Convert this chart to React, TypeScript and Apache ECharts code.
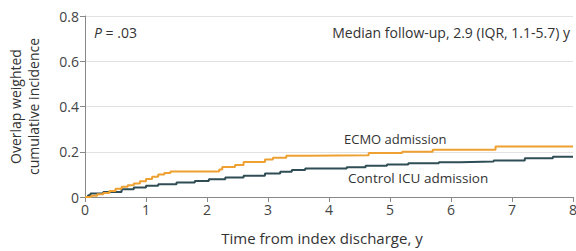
import React, { useEffect, useRef } from "react";
import * as echarts from "echarts";

const ecmoTimes = [0, 0.1, 0.2, 0.3, 0.4, 0.5, 0.6, 0.7, 0.8, 0.9, 1.0, 1.1, 1.2, 1.3, 1.4, 2.2, 2.25, 2.46, 2.6, 2.95, 3.08, 3.3, 3.65, 4.65, 5.2, 5.7, 6.73, 8];
const ecmoValues = [0, 0.006, 0.012, 0.018, 0.026, 0.036, 0.045, 0.052, 0.06, 0.07, 0.08, 0.09, 0.1, 0.106, 0.113, 0.122, 0.133, 0.141, 0.155, 0.166, 0.173, 0.182, 0.185, 0.194, 0.2, 0.209, 0.223, 0.223];

const controlTimes = [0, 0.05, 0.09, 0.3, 0.6, 0.8, 1.0, 1.2, 1.5, 1.8, 2.03, 2.3, 2.6, 2.95, 3.2, 3.39, 3.61, 4.29, 4.6, 4.95, 5.3, 5.8, 6.15, 6.7, 7.21, 7.67, 8];
const controlValues = [0, 0.008, 0.016, 0.022, 0.034, 0.042, 0.05, 0.056, 0.064, 0.071, 0.078, 0.086, 0.094, 0.104, 0.112, 0.119, 0.126, 0.132, 0.138, 0.144, 0.149, 0.154, 0.157, 0.161, 0.171, 0.178, 0.18];

const xTicks = [0, 1, 2, 3, 4, 5, 6, 7, 8];
const yTicks = [0, 0.2, 0.4, 0.6, 0.8];

const FONT = "Open Sans";

export default function App() {
  const ref = useRef<HTMLDivElement>(null);
  useEffect(() => {
    document.body.style.margin = "0";
    const chart = echarts.init(ref.current!, null, { renderer: "svg" });
    chart.setOption({
      animation: false,
      textStyle: { fontFamily: FONT },
      grid: { left: 85, right: 3, top: 16, bottom: 54, containLabel: false, outerBoundsMode: "none" },
      xAxis: {
        type: "value",
        min: xTicks[0],
        max: xTicks[xTicks.length - 1],
        interval: 1,
        name: "Time from index discharge, y",
        nameLocation: "middle",
        nameGap: 33,
        nameTextStyle: { fontSize: 15, color: "#333", fontFamily: FONT, padding: [0, 14, 0, 0] },
        axisLine: { lineStyle: { color: "#888", width: 1 } },
        axisTick: { show: true, length: 5, lineStyle: { color: "#888" } },
        axisLabel: { fontSize: 14, color: "#444", margin: 5, formatter: (v: number) => String(v) },
        splitLine: { show: false },
      },
      yAxis: {
        type: "value",
        min: yTicks[0],
        max: yTicks[yTicks.length - 1],
        interval: 0.2,
        name: "Overlap weighted\ncumulative incidence",
        nameLocation: "middle",
        nameGap: 43,
        nameTextStyle: { fontSize: 14, color: "#333", fontFamily: FONT, lineHeight: 18 },
        axisLine: { show: true, lineStyle: { color: "#888", width: 1 } },
        axisTick: { show: true, length: 5, lineStyle: { color: "#888" } },
        axisLabel: {
          fontSize: 14,
          color: "#444",
          margin: 6,
          formatter: (v: number) => (v === 0 ? "0" : v.toFixed(1)),
        },
        splitLine: { show: true, lineStyle: { color: "#e2e2e2", width: 1 } },
      },
      graphic: [
        {
          type: "text",
          left: 94,
          top: 25,
          style: {
            text: "{i|P} = .03",
            fontSize: 14,
            fill: "#333",
            fontFamily: FONT,
            rich: { i: { fontStyle: "italic", fontSize: 14, fill: "#333", fontFamily: FONT } },
          },
        },
        {
          type: "text",
          right: 6,
          top: 25,
          style: { text: "Median follow-up, 2.9 (IQR, 1.1-5.7) y", fontSize: 14, fill: "#333", fontFamily: FONT },
        },
        {
          type: "text",
          left: 344,
          top: 132,
          style: { text: "ECMO admission", fontSize: 13, fill: "#333", fontFamily: FONT },
        },
        {
          type: "text",
          left: 348,
          top: 171,
          style: { text: "Control ICU admission", fontSize: 13.5, fill: "#333", fontFamily: FONT },
        },
      ],
      series: [
        {
          name: "Control ICU admission",
          type: "line",
          step: "end",
          showSymbol: false,
          lineStyle: { color: "#2e4d55", width: 2 },
          itemStyle: { color: "#2e4d55" },
          data: controlTimes.map((t, i) => [t, controlValues[i]]),
          z: 2,
        },
        {
          name: "ECMO admission",
          type: "line",
          step: "end",
          showSymbol: false,
          lineStyle: { color: "#eea030", width: 2 },
          itemStyle: { color: "#eea030" },
          data: ecmoTimes.map((t, i) => [t, ecmoValues[i]]),
          z: 3,
        },
      ],
    });
    return () => chart.dispose();
  }, []);
  return <div ref={ref} style={{ width: 576, height: 251 }} />;
}
